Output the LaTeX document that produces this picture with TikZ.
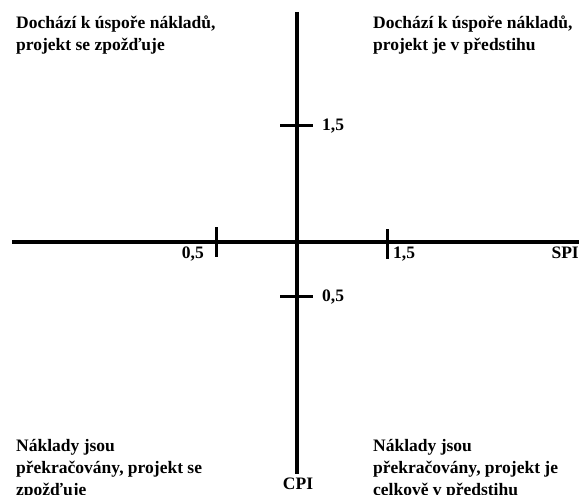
\documentclass[tikz,border=0pt]{standalone}
\usepackage{fontspec}
\setmainfont{Liberation Serif}
\begin{document}
\begin{tikzpicture}[x=1pt,y=-1pt,
  axis/.style={line width=3.5pt},
  tick/.style={line width=3pt},
  lbl/.style={font=\bfseries\fontsize{17.5}{22}\selectfont, inner sep=0pt, align=left}]
\useasboundingbox (0,0) rectangle (579,495);
\coordinate (xl) at (12,242);
\coordinate (xr) at (579,242);
\coordinate (yt) at (297,12);
\coordinate (yb) at (297,474);
\draw[axis] (xl) -- (xr);
\draw[axis] (yt) -- (yb);
% ticks
\coordinate (t1a) at (216,227); \coordinate (t1b) at (216,257);
\coordinate (t2a) at (387,229); \coordinate (t2b) at (387,259);
\coordinate (t3a) at (280,126); \coordinate (t3b) at (313,126);
\coordinate (t4a) at (280,296); \coordinate (t4b) at (313,296);
\draw[tick] (t1a) -- (t1b);
\draw[tick] (t2a) -- (t2b);
\draw[tick] (t3a) -- (t3b);
\draw[tick] (t4a) -- (t4b);
% tick labels
\node[lbl, anchor=base east] (l05x) at (204,258) {0,5};
\node[lbl, anchor=base west] (l15x) at (393,258) {1,5};
\node[lbl, anchor=base east] (spi) at (579,258) {SPI};
\node[lbl, anchor=base west] (l15y) at (322,131) {1,5};
\node[lbl, anchor=base west] (l05y) at (322,301) {0,5};
\node[lbl, anchor=base] (cpi) at (298,489) {CPI};
% quadrant texts (base anchor = baseline of last line)
\node[lbl, anchor=base west] (tl) at (16,51) {Dochází k úspoře nákladů,\\projekt se zpožďuje};
\node[lbl, anchor=base west] (tr) at (373,51) {Dochází k úspoře nákladů,\\projekt je v předstihu};
\node[lbl, anchor=base west] (bl) at (16,495) {Náklady jsou\\překračovány, projekt se\\zpožďuje};
\node[lbl, anchor=base west] (br) at (373,495) {Náklady jsou\\překračovány, projekt je\\celkově v předstihu};
\end{tikzpicture}
\end{document}
